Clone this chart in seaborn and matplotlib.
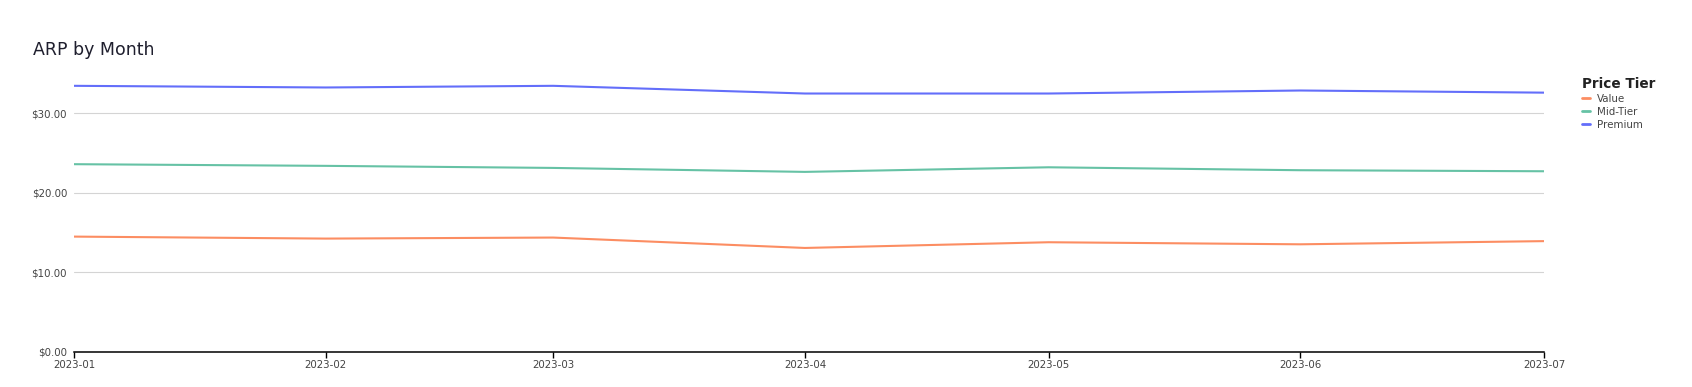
import matplotlib
matplotlib.use("Agg")
import matplotlib.pyplot as plt
import matplotlib.dates as mdates
from matplotlib.ticker import FuncFormatter, FixedLocator
from matplotlib.lines import Line2D
import seaborn as sns
import pandas as pd

months = ["2023-01", "2023-02", "2023-03", "2023-04", "2023-05", "2023-06", "2023-07"]
value = [14.47, 14.22, 14.35, 13.04, 13.76, 13.50, 13.90]
mid_tier = [23.59, 23.38, 23.12, 22.62, 23.20, 22.83, 22.70]
premium = [33.46, 33.25, 33.46, 32.49, 32.49, 32.87, 32.60]
tiers = ["Value", "Mid-Tier", "Premium"]
colors = {"Value": "#fc8d62", "Mid-Tier": "#66c2a5", "Premium": "#636efa"}

df = pd.DataFrame({
    "month": pd.to_datetime(months * 3),
    "arp": value + mid_tier + premium,
    "tier": ["Value"] * 7 + ["Mid-Tier"] * 7 + ["Premium"] * 7,
})

sns.set_theme(style="white")
plt.rcParams["font.family"] = ["DejaVu Sans"]

fig = plt.figure(figsize=(16.92, 3.87), dpi=100)
ax = fig.add_axes([74 / 1692, 1 - 351.5 / 387, (1544 - 74) / 1692, (351.5 - 72) / 387])

sns.lineplot(data=df, x="month", y="arp", hue="tier", hue_order=tiers,
             palette=colors, linewidth=1.5, ax=ax, legend=False)

ax.set_xlim(pd.Timestamp("2023-01-01"), pd.Timestamp("2023-07-01"))
ax.set_ylim(0, 35.2)
ax.xaxis.set_major_locator(FixedLocator(mdates.date2num(pd.to_datetime(months))))
ax.xaxis.set_major_formatter(mdates.DateFormatter("%Y-%m"))
ax.yaxis.set_major_locator(FixedLocator([0, 10, 20, 30]))
ax.yaxis.set_major_formatter(FuncFormatter(lambda v, p: f"${v:.2f}"))

ax.grid(axis="y", color="#d4d4d4", linewidth=0.8)
ax.grid(axis="x", visible=False)
for s in ["top", "right", "left"]:
    ax.spines[s].set_visible(False)
ax.spines["bottom"].set_color("#000000")
ax.spines["bottom"].set_linewidth(1.1)
ax.tick_params(axis="x", which="major", direction="out", length=4, width=1,
               color="#000000", labelsize=7.4, labelcolor="#444444", pad=2, bottom=True)
ax.tick_params(axis="y", length=0, labelsize=7.4, labelcolor="#444444", pad=5)
ax.set_xlabel("")
ax.set_ylabel("")

fig.text(33 / 1692, 1 - 50 / 387, "ARP by Month", fontsize=12.5, color="#1f1f2e",
         va="center", ha="left")

handles = [Line2D([0], [0], color=colors[t], linewidth=2) for t in tiers]
leg = fig.legend(handles, tiers, loc="upper left", bbox_to_anchor=(1578 / 1692, 1 - 73 / 387),
                 frameon=False, fontsize=7.4, title="Price Tier", handlelength=0.8,
                 handletextpad=0.6, labelspacing=0.28, borderaxespad=0, alignment="left")
leg.get_title().set_fontsize(9.8)
leg.get_title().set_fontweight("bold")
leg.get_title().set_color("#222222")
for t in leg.get_texts():
    t.set_color("#444444")

fig.savefig("out.png", dpi=100)
